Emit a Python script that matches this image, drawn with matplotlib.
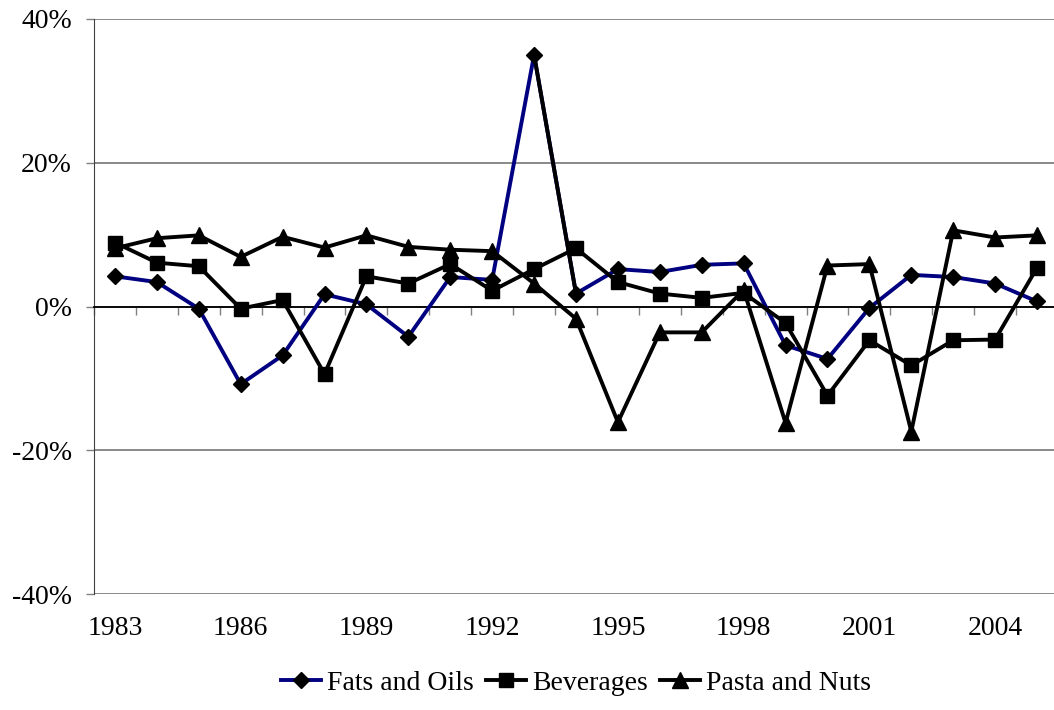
import numpy as np
import matplotlib.pyplot as plt
import matplotlib.ticker as mtick

# yearly % change
years = list(range(1983, 2006))
fats_oils = [4.2, 3.4, -0.3, -10.8, -6.8, 1.7, 0.3, -4.2, 4.1, 3.7, 35.0, 1.8,
             5.2, 4.8, 5.8, 6.0, -5.4, -7.3, -0.2, 4.4, 4.1, 3.2, 0.7]
beverages = [8.9, 6.1, 5.6, -0.3, 0.9, -9.4, 4.2, 3.2, 5.9, 2.2, 5.2, 8.1,
             3.4, 1.8, 1.2, 1.9, -2.3, -12.4, -4.7, -8.2, -4.7, -4.6, 5.4]
pasta_nuts = [8.1, 9.5, 9.9, 6.9, 9.7, 8.2, 9.9, 8.3, 7.9, 7.7, 3.2, -1.7,
              -16.1, -3.6, -3.6, 2.3, -16.2, 5.7, 5.9, -17.4, 10.6, 9.6, 9.9]
label_years = years[::3]

plt.rcParams['font.family'] = ['Liberation Serif', 'DejaVu Serif']

fig = plt.figure(figsize=(10.54, 7.10), dpi=100)
ax = fig.add_axes([94 / 1054, 1 - 594 / 710, (1058 - 94) / 1054, (594 - 19) / 710])

x = np.arange(len(years))
navy = '#000080'

ax.plot(x, fats_oils, color=navy, lw=2.8, marker='D', ms=8, mfc='black', mec='black',
        label='Fats and Oils', zorder=3)
# the 1993-1994 segment is black in the original
ax.plot(x[10:12], fats_oils[10:12], color='black', lw=2.8, zorder=3)
ax.plot(x, beverages, color='black', lw=2.8, marker='s', ms=10, mfc='black', mec='black',
        label='Beverages', zorder=4)
ax.plot(x, pasta_nuts, color='black', lw=2.8, marker='^', ms=11, mfc='black', mec='black',
        label='Pasta and Nuts', zorder=5)

ax.set_xlim(-0.5, len(years) - 0.5)
ax.set_ylim(-40, 40)

# y axis
ax.yaxis.set_major_locator(mtick.MultipleLocator(20))
ax.yaxis.set_major_formatter(mtick.FuncFormatter(lambda v, p: f'{v:.0f}%'))
ax.tick_params(axis='y', direction='out', length=6, width=1, color='#808080',
               labelsize=20, pad=10)
ax.grid(axis='y', color='#808080', lw=1.3, zorder=0)

# x axis at zero with ticks between categories
ax.spines['bottom'].set_position(('data', 0))
ax.spines['bottom'].set_color('black')
ax.spines['bottom'].set_linewidth(1.3)
ax.set_xticks(np.arange(len(years) + 1) - 0.5)
ax.set_xticklabels([])
ax.tick_params(axis='x', direction='out', length=6, width=1, color='#808080')
ax.spines['top'].set_visible(False)
ax.spines['right'].set_visible(False)
ax.spines['left'].set_color('#404040')

# category labels sit below the plot
sec = ax.secondary_xaxis('bottom')
sec.spines['bottom'].set_visible(False)
sec.set_xticks([years.index(y) for y in label_years])
sec.set_xticklabels([str(y) for y in label_years])
sec.tick_params(length=0, labelsize=20, pad=16)

fig.legend(loc='center', bbox_to_anchor=(576 / 1054, 1 - 683 / 710), ncol=3,
           frameon=False, fontsize=20, handlelength=1.45, handletextpad=0.2,
           columnspacing=0.45, borderaxespad=0)

fig.savefig('out.png', dpi=100)
